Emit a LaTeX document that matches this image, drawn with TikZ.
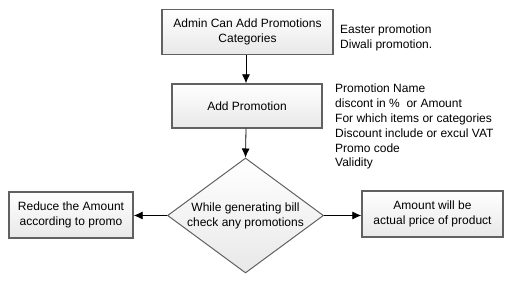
\documentclass[tikz,border=0pt]{standalone}
\usepackage{fontspec}
\setmainfont{Liberation Sans}
\usetikzlibrary{shapes.geometric,arrows.meta}
\begin{document}
\begin{tikzpicture}[x=1pt,y=-1pt,
  every node/.style={font=\fontsize{12}{14.8}\selectfont},
  box/.style={draw=black!62,line width=1.4pt,top color=white,bottom color=black!9,align=center,inner sep=0pt},
  dia/.style={diamond,draw=black!62,line width=1pt,top color=white,bottom color=black!9,inner sep=0pt,minimum width=156pt,minimum height=115pt},
  note/.style={align=left,anchor=north west,inner sep=0pt},
  conn/.style={line width=0.8pt,-{Latex[length=9pt,width=8pt]}}]
\useasboundingbox (0,0) rectangle (513,286);
\node[box,minimum width=171pt,minimum height=45pt] (cat) at (247.5,32) {Admin Can Add Promotions\\Categories};
\node[box,minimum width=150pt,minimum height=44pt] (add) at (247,106) {Add Promotion};
\node[dia] (chk) at (245.5,215.5) {};
\node[align=center,inner sep=0pt] (chktext) at (chk.center) {While generating bill\\check any promotions};
\node[box,minimum width=124pt,minimum height=46pt] (red) at (71,215) {Reduce the Amount\\according to promo};
\node[box,minimum width=141pt,minimum height=46pt] (act) at (432.5,214) {Amount will be\\actual price of product};
\node[note] (n1) at (340,25) {Easter promotion\\Diwali promotion.};
\node[note] (n2) at (335,84) {Promotion Name\\discont in \%~ or Amount\\For which items or categories\\Discount include or excul VAT\\Promo code\\Validity};
\draw[conn] (cat.south -| 246,0) -- (add.north -| 246,0);
\draw[conn] (add.south -| 246,0) -- (chk.north);
\draw[conn] (chk.west) -- (red.east |- chk.west);
\draw[conn] (chk.east) -- (act.west |- chk.east);
\end{tikzpicture}
\end{document}
